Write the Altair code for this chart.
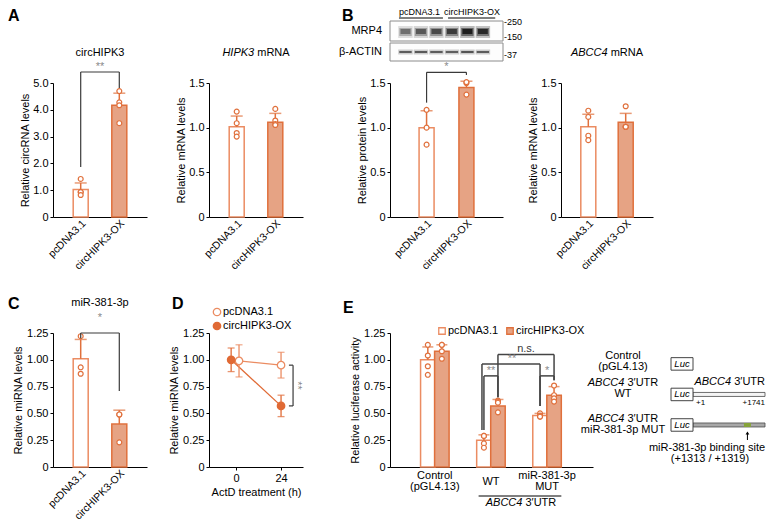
import altair as alt
import pandas as pd

FONT = "Liberation Sans"
OR = "#E0703C"
OR_PC = "#EB8C62"
FILL_OX = "#E6A384"
DOT_OX = "#E06A35"
DARK = "#3a3a3a"
STAR = "#8a8a8a"

GROUPS = ["pcDNA3.1", "circHIPK3-OX"]

# ---------------- data ----------------
# A: circHIPK3
circ_mean = [1.03, 4.17]
circ_cap = [1.27, 4.62]
circ_pc_pts = [1.42, 0.93, 0.93, 0.82]
circ_ox_pts = [4.70, 4.28, 4.17, 3.50]
# A: HIPK3 mRNA
hipk_mean = [1.01, 1.06]
hipk_cap = [1.13, 1.16]
hipk_pc_pts = [1.18, 1.05, 0.94, 0.90]
hipk_ox_pts = [1.21, 1.08, 1.04, 1.03]
# B: MRP4 protein
prot_mean = [1.00, 1.45]
prot_cap = [1.19, 1.52]
prot_pc_pts = [1.20, 1.00, 0.81]
prot_ox_pts = [1.50, 1.51, 1.37]
# B: ABCC4 mRNA
abcc_mean = [1.01, 1.06]
abcc_cap = [1.15, 1.16]
abcc_pc_pts = [1.19, 1.12, 0.91, 0.86]
abcc_ox_pts = [1.24, 1.01, 1.01, 1.01]
# C: miR-381-3p
mir_mean = [1.01, 0.40]
mir_cap = [1.19, 0.53]
mir_pc_pts = [1.22, 0.93, 0.87]
mir_ox_pts = [0.49, 0.49, 0.23]
# D: ActD chase
actd_time = [0, 24]
actd_pc_mean = [0.99, 0.95]
actd_pc_sd = [0.15, 0.12]
actd_ox_mean = [1.00, 0.57]
actd_ox_sd = [0.11, 0.10]
# E: luciferase
luc_groups = ["Control", "WT", "MUT"]
luc_pc_mean = [1.00, 0.25, 0.48]
luc_pc_cap = [1.12, 0.30, 0.50]
luc_ox_mean = [1.08, 0.57, 0.67]
luc_ox_cap = [1.14, 0.63, 0.75]
luc_pc_pts = [[1.14, 1.04, 0.94, 0.86], [0.29, 0.29, 0.22, 0.18], [0.50, 0.48, 0.47, 0.47]]
luc_ox_pts = [[1.14, 1.14, 1.08, 1.01], [0.62, 0.61, 0.60, 0.51], [0.76, 0.67, 0.64, 0.61]]
# western blot band signal per lane
blot_lanes = [1, 2, 3, 4, 5, 6]
mrp4_signal = [0.45, 0.55, 0.62, 0.72, 0.95, 0.85]
actin_signal = [0.70, 0.72, 0.70, 0.68, 0.74, 0.70]
# construct schematic
utr_len = 1741
site_pos = 1316
luc_len = 532

T5 = [0, 1, 2, 3, 4, 5]
T15 = [0, 0.5, 1.0, 1.5]
T125 = [0, 0.25, 0.5, 0.75, 1.0, 1.25]
L1 = "datum.value == 0 ? '0' : format(datum.value, '.1f')"
L2 = "datum.value == 0 ? '0' : format(datum.value, '.2f')"

W = {'A': 667, 'B': 667, 'C': 722, 'H': 722, 'I': 278, 'K': 667, 'P': 667, 'R': 722,
     'T': 611, 'U': 722, 'N': 722, 'm': 833, ' ': 278, '\u2032': 191}


def tw(s, size):
    return sum(W.get(ch, 556) for ch in s) * size / 1000.0


def txt(t, x, y, size=11, align="center", baseline="middle", style="normal",
        weight="normal", color="black", angle=None):
    kw = dict(font=FONT, fontSize=size, align=align, baseline=baseline,
              fontStyle=style, fontWeight=weight, color=color)
    if angle is not None:
        kw["angle"] = angle
    return alt.Chart(pd.DataFrame({"t": [t]})).mark_text(**kw).encode(
        x=alt.value(x), y=alt.value(y), text="t:N")


def mixed(it, rest, cx, y, size=11):
    wi, wr, ws = tw(it, size), tw(rest, size), tw(" ", size)
    start = cx - (wi + ws + wr) / 2
    return [txt(it, start + wi, y, size, align="right", style="italic"),
            txt(rest, start + wi + ws, y, size, align="left")]


one = pd.DataFrame({"a": [0]})


def anchor(x0, x1, y0, y1):
    # invisible frame that fixes the outer extent of a row
    return alt.Chart(one).mark_rect(opacity=0).encode(
        x=alt.value(x0), x2=alt.value(x1), y=alt.value(y0), y2=alt.value(y1))


def bar_panel(mean, cap, pc_pts, ox_pts, ymax, ticks, lab, width, ytitle,
              pin, pout, br, extras, extent):
    xs = alt.Scale(domain=GROUPS, paddingInner=pin, paddingOuter=pout)
    xaxis = alt.Axis(labelAngle=-45, labelAlign="right", labelBaseline="top",
                     ticks=False, labelPadding=1, labelFontSize=10.5)
    ys = alt.Scale(domain=[0, ymax], nice=False, zero=True)
    yaxis = alt.Axis(values=ticks, labelExpr=lab, minExtent=extent,
                     maxExtent=extent, titlePadding=3)

    def X(f):
        return alt.X(f"{f}:N", scale=xs, axis=xaxis, title=None)

    def Y(f):
        return alt.Y(f"{f}:Q", scale=ys, axis=yaxis, title=ytitle)

    df = pd.DataFrame({"group": GROUPS, "mean": mean, "cap": cap})
    pts = pd.DataFrame({"group": [GROUPS[0]] * len(pc_pts) + [GROUPS[1]] * len(ox_pts),
                        "v": list(pc_pts) + list(ox_pts)})
    base = alt.Chart(df).transform_calculate(
        fc=f"datum.group == 'pcDNA3.1' ? 'white' : '{FILL_OX}'",
        sc=f"datum.group == 'pcDNA3.1' ? '{OR_PC}' : '{OR}'")
    bars = base.mark_bar(size=15, strokeWidth=1.5).encode(
        x=X("group"), y=Y("mean"),
        fill=alt.Fill("fc:N", scale=None), stroke=alt.Stroke("sc:N", scale=None))
    err = alt.Chart(df).mark_rule(color=OR, strokeWidth=1.5).encode(
        x=X("group"), y=Y("mean"), y2=alt.Y2("cap"))
    capm = alt.Chart(df).mark_tick(color=OR, thickness=1.5, size=12,
                                   orient="horizontal").encode(x=X("group"), y=Y("cap"))
    dots = alt.Chart(pts).mark_circle(fill="white", stroke=OR, strokeWidth=1.2,
                                      size=24, opacity=1).encode(x=X("group"), y=Y("v"))
    layers = [bars, err, capm, dots]
    if br is not None:
        top, b1, b2, label, dy = br
        bdf = pd.DataFrame({"g1": [GROUPS[0]], "g2": [GROUPS[1]], "top": [top],
                            "b1": [b1], "b2": [b2], "t": [label]})
        rs = dict(color=DARK, strokeWidth=1.2)
        layers += [
            alt.Chart(bdf).mark_rule(**rs).encode(x=X("g1"), x2=alt.X2("g2"), y=Y("top")),
            alt.Chart(bdf).mark_rule(**rs).encode(x=X("g1"), y=Y("top"), y2=alt.Y2("b1")),
            alt.Chart(bdf).mark_rule(**rs).encode(x=X("g2"), y=Y("top"), y2=alt.Y2("b2")),
            alt.Chart(bdf).mark_text(font=FONT, color=STAR, fontSize=11,
                                     baseline="alphabetic", dy=dy).encode(
                x=alt.value(width / 2), y=Y("top"), text="t:N"),
        ]
    return alt.layer(*layers, *extras)


H = 134

A1 = bar_panel(circ_mean, circ_cap, circ_pc_pts, circ_ox_pts, 5, T5, L1, 94,
               "Relative circRNA levels", 0.615, 0.525, (5.41, 1.87, 4.81, "**", -2),
               [txt("circHIPK3", 47, -30),
                txt("A", -45, -75, 16, align="left", baseline="top", weight="bold"),
                anchor(-45, -40, -75, 205)],
               20).properties(width=94, height=H)

A2 = bar_panel(hipk_mean, hipk_cap, hipk_pc_pts, hipk_ox_pts, 1.5, T15, L1, 94,
               "Relative mRNA levels", 0.615, 0.525, None,
               mixed("HIPK3", "mRNA", 47, -30), 20).properties(width=94, height=H)

# ---- B (protein) with blot above
Bmain = bar_panel(prot_mean, prot_cap, prot_pc_pts, prot_ox_pts, 1.5, T15, L1, 113,
                  "Relative protein levels", 0.625, 0.73, (1.62, 1.28, 1.59, "*", -2),
                  [txt("B", -48, -75, 16, align="left", baseline="top", weight="bold")], 20)

bs = alt.Scale(domain=[0, 7.3], nice=False, zero=False)


def LX(f):
    return alt.X(f"{f}:Q", scale=bs, axis=None)


box1 = alt.Chart(one).mark_rect(fill="#fdfdfd", stroke="#8c8c8c", strokeWidth=1).encode(
    x=alt.value(0), x2=alt.value("width"), y=alt.value(-62), y2=alt.value(-42))
box2 = alt.Chart(one).mark_rect(fill="#fdfdfd", stroke="#8c8c8c", strokeWidth=1).encode(
    x=alt.value(0), x2=alt.value("width"), y=alt.value(-40), y2=alt.value(-22))
lane_df = pd.DataFrame({"lane": blot_lanes, "mrp4": mrp4_signal, "actin": actin_signal})
bl = alt.Chart(lane_df).transform_calculate(
    l0="datum.lane - 0.47", l1="datum.lane + 0.47",
    k0="datum.lane - 0.40", k1="datum.lane + 0.40",
    m0="datum.lane - 0.32", m1="datum.lane + 0.32",
    oh="datum.mrp4 * 0.3", oc="datum.mrp4 * 0.55", od="datum.mrp4 * 0.9",
    ah="datum.actin * 0.3", ac="datum.actin * 0.9")
mrp_h = bl.mark_rect(color="#1a1a1a").encode(
    x=LX("l0"), x2=alt.X2("l1"), y=alt.value(-57), y2=alt.value(-45),
    opacity=alt.Opacity("oh:Q", scale=None))
mrp_c = bl.mark_rect(color="#1a1a1a").encode(
    x=LX("k0"), x2=alt.X2("k1"), y=alt.value(-55), y2=alt.value(-47),
    opacity=alt.Opacity("oc:Q", scale=None))
mrp_d = bl.mark_rect(color="#111111").encode(
    x=LX("m0"), x2=alt.X2("m1"), y=alt.value(-54), y2=alt.value(-49),
    opacity=alt.Opacity("od:Q", scale=None))
act_h = bl.mark_rect(color="#1a1a1a").encode(
    x=LX("l0"), x2=alt.X2("l1"), y=alt.value(-33.5), y2=alt.value(-28.5),
    opacity=alt.Opacity("ah:Q", scale=None))
act_c = bl.mark_rect(color="#1a1a1a").encode(
    x=LX("k0"), x2=alt.X2("k1"), y=alt.value(-32), y2=alt.value(-30),
    opacity=alt.Opacity("ac:Q", scale=None))
hd = pd.DataFrame({"lane": [1.9, 5.3], "t": GROUPS, "a": [0.58, 3.75], "b": [3.42, 6.8]})
hdr = alt.Chart(hd).mark_text(font=FONT, fontSize=9, baseline="top").encode(
    x=LX("lane"), y=alt.value(-75), text="t:N")
hdl = alt.Chart(hd).mark_rule(color="black", strokeWidth=1).encode(
    x=LX("a"), x2=alt.X2("b"), y=alt.value(-65))
blot = alt.layer(box1, box2, mrp_h, mrp_c, mrp_d, act_h, act_c, hdr, hdl,
                 txt("-250", 114, -61, 9, align="left"),
                 txt("-150", 114, -46, 9, align="left"),
                 txt("-37", 114, -28, 9, align="left"),
                 txt("MRP4", -8, -52, 11, align="right"),
                 txt("\u03b2-ACTIN", -8, -31, 11, align="right"))
B = alt.layer(Bmain, blot).resolve_scale(x="independent").properties(width=113, height=H)

B2 = bar_panel(abcc_mean, abcc_cap, abcc_pc_pts, abcc_ox_pts, 1.5, T15, L1, 92,
               "Relative mRNA levels", 0.6, 0.53, None,
               mixed("ABCC4", "mRNA", 46, -30), 20).properties(width=92, height=H)

C = bar_panel(mir_mean, mir_cap, mir_pc_pts, mir_ox_pts, 1.25, T125, L2, 94,
              "Relative miRNA levels", 0.615, 0.525, (1.25, 1.20, 0.71, "*", -12),
              [txt("miR-381-3p", 47, -30),
               txt("C", -45, -37, 16, align="left", baseline="top", weight="bold"),
               anchor(-45, -40, -40, 0), anchor(-45, -40, 150, 184)],
              27).properties(width=94, height=H)

# ---- D
dxs = alt.Scale(domain=[-14.4, 35.7], nice=False, zero=False)
dys = alt.Scale(domain=[0, 1.25], nice=False)
dxa = alt.Axis(values=[0, 24], labelFlush=False, titlePadding=3)
dya = alt.Axis(values=T125, labelExpr=L2, minExtent=27, maxExtent=27, titlePadding=3)


def DX(f):
    return alt.X(f"{f}:Q", scale=dxs, axis=dxa, title="ActD treatment (h)")


def DY(f):
    return alt.Y(f"{f}:Q", scale=dys, axis=dya, title="Relative miRNA levels")


ddf = pd.DataFrame({"series": [GROUPS[0]] * 2 + [GROUPS[1]] * 2,
                    "time": actd_time * 2,
                    "mean": actd_pc_mean + actd_ox_mean,
                    "sd": actd_pc_sd + actd_ox_sd})
dbase = alt.Chart(ddf).transform_calculate(
    lo="datum.mean - datum.sd", hi="datum.mean + datum.sd",
    xp="datum.time + (datum.time == 0 ? (datum.series == 'pcDNA3.1' ? 1.6 : -2.6) : 0)")
dlayers = []
dstyle = {GROUPS[0]: (OR_PC, "white"), GROUPS[1]: (DOT_OX, DOT_OX)}
for s in GROUPS:
    sub = dbase.transform_filter(f"datum.series == '{s}'")
    c, f = dstyle[s]
    dlayers.append(sub.mark_line(color=c, strokeWidth=1.3).encode(x=DX("xp"), y=DY("mean")))
for s in GROUPS:
    sub = dbase.transform_filter(f"datum.series == '{s}'")
    c, f = dstyle[s]
    dlayers.append(sub.mark_rule(color=c, strokeWidth=1.3).encode(
        x=DX("xp"), y=DY("lo"), y2=alt.Y2("hi")))
    dlayers.append(sub.mark_tick(color=c, thickness=1.3, size=7, orient="horizontal").encode(
        x=DX("xp"), y=DY("lo")))
    dlayers.append(sub.mark_tick(color=c, thickness=1.3, size=7, orient="horizontal").encode(
        x=DX("xp"), y=DY("hi")))
for s in GROUPS:
    sub = dbase.transform_filter(f"datum.series == '{s}'")
    c, f = dstyle[s]
    dlayers.append(sub.mark_point(shape="circle", filled=True, fill=f, stroke=c,
                                  strokeWidth=1.3, size=55, opacity=1).encode(
        x=DX("xp"), y=DY("mean")))
dbr = pd.DataFrame({"x": [30.4], "x0": [28.2], "y1": [0.95], "y2": [0.57],
                    "lx": [30.9], "ly": [0.76], "t": ["**"]})
dlayers += [
    alt.Chart(dbr).mark_rule(color=DARK, strokeWidth=1.2).encode(
        x=DX("x"), y=DY("y1"), y2=alt.Y2("y2")),
    alt.Chart(dbr).mark_rule(color=DARK, strokeWidth=1.2).encode(
        x=DX("x0"), x2=alt.X2("x"), y=DY("y1")),
    alt.Chart(dbr).mark_rule(color=DARK, strokeWidth=1.2).encode(
        x=DX("x0"), x2=alt.X2("x"), y=DY("y2")),
    alt.Chart(dbr).mark_text(font=FONT, fontSize=11, color=STAR, angle=90,
                             baseline="alphabetic").encode(
        x=DX("lx"), y=DY("ly"), text="t:N"),
]
leg = pd.DataFrame({"a": [0]})
dlayers += [
    alt.Chart(leg).mark_point(shape="circle", filled=True, fill="white", stroke=OR_PC,
                              strokeWidth=1.3, size=55, opacity=1).encode(
        x=alt.value(8), y=alt.value(-21)),
    alt.Chart(leg).mark_point(shape="circle", filled=True, fill=DOT_OX, stroke=DOT_OX,
                              strokeWidth=1.3, size=55, opacity=1).encode(
        x=alt.value(8), y=alt.value(-7)),
    txt("pcDNA3.1", 14, -21, align="left"),
    txt("circHIPK3-OX", 14, -7, align="left"),
    txt("D", -37, -37, 16, align="left", baseline="top", weight="bold"),
]
D = alt.layer(*dlayers).properties(width=94, height=H)

# ---- E
ex = alt.Scale(domain=[-0.71, 2.73], nice=False, zero=False)
ey = alt.Scale(domain=[0, 1.25], nice=False)
exa = alt.Axis(labels=False, ticks=False)
eya = alt.Axis(values=T125, labelExpr=L2, minExtent=27, maxExtent=27, titlePadding=3)


def EX(f):
    return alt.X(f"{f}:Q", scale=ex, axis=exa, title=None)


def EY(f):
    return alt.Y(f"{f}:Q", scale=ey, axis=eya, title="Relative luciferase activity")


def epos(g, s):
    return g + (s - 0.5) * 0.25


POS = "datum.gi + (datum.si - 0.5) * 0.25"
edf = pd.DataFrame([dict(gi=g, si=s, mean=m, cap=c)
                    for g in range(3)
                    for s, (m, c) in enumerate([(luc_pc_mean[g], luc_pc_cap[g]),
                                                (luc_ox_mean[g], luc_ox_cap[g])])])
epts = pd.DataFrame([dict(gi=g, si=s, v=v)
                     for g in range(3)
                     for s, arr in enumerate([luc_pc_pts[g], luc_ox_pts[g]])
                     for v in arr])
eb = alt.Chart(edf).transform_calculate(
    pos=POS, fc=f"datum.si == 0 ? 'white' : '{FILL_OX}'",
    sc=f"datum.si == 0 ? '{OR_PC}' : '{OR}'")
e_bars = eb.mark_bar(size=14.5, strokeWidth=1.5).encode(
    x=EX("pos"), y=EY("mean"), fill=alt.Fill("fc:N", scale=None),
    stroke=alt.Stroke("sc:N", scale=None))
e_err = eb.mark_rule(color=OR, strokeWidth=1.5).encode(x=EX("pos"), y=EY("mean"), y2=alt.Y2("cap"))
e_cap = eb.mark_tick(color=OR, thickness=1.5, size=11, orient="horizontal").encode(
    x=EX("pos"), y=EY("cap"))
e_dots = alt.Chart(epts).transform_calculate(pos=POS).mark_circle(
    fill="white", stroke=OR, strokeWidth=1.2, size=24, opacity=1).encode(x=EX("pos"), y=EY("v"))

e_br_spec = [  # (g1, s1, g2, s2, top, bottom1, bottom2, label, leg shift)
    (1, 0, 1, 1, 0.85, 0.345, 0.65, "**", 0.0),
    (1, 0, 2, 0, 0.96, 0.345, 0.57, "**", -0.035),
    (1, 1, 2, 1, 1.05, 0.65, 0.81, "n.s.", 0.0),
    (2, 0, 2, 1, 0.85, 0.57, 0.81, "*", 0.0),
]
ebr = pd.DataFrame([dict(x1=epos(g1, s1) + sh, x2=epos(g2, s2), top=t, b1=b1, b2=b2, t=lab,
                         lx=(epos(g1, s1) + epos(g2, s2)) / 2,
                         tc=DARK if lab == "n.s." else STAR)
                    for g1, s1, g2, s2, t, b1, b2, lab, sh in e_br_spec])
ers = dict(color="#444444", strokeWidth=1.5)
e_h = alt.Chart(ebr).mark_rule(**ers).encode(x=EX("x1"), x2=alt.X2("x2"), y=EY("top"))
e_l1 = alt.Chart(ebr).mark_rule(**ers).encode(x=EX("x1"), y=EY("top"), y2=alt.Y2("b1"))
e_l2 = alt.Chart(ebr).mark_rule(**ers).encode(x=EX("x2"), y=EY("top"), y2=alt.Y2("b2"))
e_lab = alt.Chart(ebr).mark_text(font=FONT, fontSize=11, baseline="alphabetic", dy=-2).encode(
    x=EX("lx"), y=EY("top"), text="t:N", color=alt.Color("tc:N", scale=None))

xl1 = pd.DataFrame({"gi": [0, 2], "t": ["Control", "miR-381-3p"]})
xl2 = pd.DataFrame({"gi": [0, 2], "t": ["(pGL4.13)", "MUT"]})
xl3 = pd.DataFrame({"gi": [1], "t": ["WT"]})
e_x1 = alt.Chart(xl1).mark_text(font=FONT, fontSize=11).encode(x=EX("gi"), y=alt.value(143), text="t:N")
e_x2 = alt.Chart(xl2).mark_text(font=FONT, fontSize=11).encode(x=EX("gi"), y=alt.value(154), text="t:N")
e_x3 = alt.Chart(xl3).mark_text(font=FONT, fontSize=11).encode(x=EX("gi"), y=alt.value(149), text="t:N")
ul = pd.DataFrame({"a": [1 - 0.22], "b": [2 + 0.255]})
e_ul = alt.Chart(ul).mark_rule(color="black", strokeWidth=1).encode(
    x=EX("a"), x2=alt.X2("b"), y=alt.value(163))
e_leg = [
    alt.Chart(leg).mark_square(size=42, fill="white", stroke=OR_PC, strokeWidth=1.3,
                               opacity=1).encode(x=alt.value(52), y=alt.value(-2)),
    txt("pcDNA3.1", 58, -2, align="left"),
    alt.Chart(leg).mark_square(size=42, fill=FILL_OX, stroke=OR, strokeWidth=1.3,
                               opacity=1).encode(x=alt.value(120), y=alt.value(-2)),
    txt("circHIPK3-OX", 126, -2, align="left"),
]
E = alt.layer(e_bars, e_err, e_cap, e_dots, e_h, e_l1, e_l2, e_lab, e_x1, e_x2, e_x3, e_ul,
              *mixed("ABCC4", "3\u2032UTR", 131, 170), *e_leg,
              txt("E", -47, -33, 16, align="left", baseline="top", weight="bold")
              ).properties(width=203, height=H)

# ---- construct schematic
gxs = alt.Scale(domain=[-2249, 1765], nice=False, zero=False)
gys = alt.Scale(domain=[-0.848, 3.212], nice=False, zero=False, reverse=True)


def GX(f):
    return alt.X(f"{f}:Q", scale=gxs, axis=None)


def GY(f):
    return alt.Y(f"{f}:Q", scale=gys, axis=None)


cdf = pd.DataFrame({"row": [0, 1, 2], "l0": [-luc_len] * 3, "l1": [0] * 3,
                    "lc": [-luc_len / 2] * 3, "t": ["Luc"] * 3})
g_luc = alt.Chart(cdf).mark_bar(orient="horizontal", size=12.5, fill="white", stroke="#444444",
                                strokeWidth=1).encode(x=GX("l0"), x2=alt.X2("l1"), y=GY("row"))
g_lucT = alt.Chart(cdf).mark_text(font=FONT, fontSize=9.5, fontStyle="italic").encode(
    x=GX("lc"), y=GY("row"), text="t:N")
udf = pd.DataFrame({"row": [1, 2], "a": [0, 0], "b": [utr_len, utr_len],
                    "fc": ["#f4f4f4", "#a8a8a8"]})
g_utr = alt.Chart(udf).mark_bar(orient="horizontal", size=4, stroke="#4a4a4a",
                                strokeWidth=0.8).encode(
    x=GX("a"), x2=alt.X2("b"), y=GY("row"), fill=alt.Fill("fc:N", scale=None))
sdf = pd.DataFrame({"row": [2], "s": [site_pos]})
g_site = alt.Chart(sdf).mark_tick(orient="vertical", thickness=7, size=4, color="#86A33A",
                                  opacity=1).encode(x=GX("s"), y=GY("row"))
g_arr = alt.Chart(sdf).mark_rule(color="black", strokeWidth=1).encode(
    x=GX("s"), y=alt.value(100), y2=alt.value(107))
g_head = alt.Chart(sdf).mark_point(shape="triangle-up", size=14, filled=True, color="black",
                                   opacity=1).encode(x=GX("s"), y=alt.value(100))
pdf = pd.DataFrame({"row": [1, 1], "x": [0, utr_len], "t": ["+1", "+" + str(utr_len)]})
g_p1 = alt.Chart(pdf.iloc[[0]]).mark_text(font=FONT, fontSize=8, align="left", dx=3, dy=9).encode(
    x=GX("x"), y=GY("row"), text="t:N")
g_p2 = alt.Chart(pdf.iloc[[1]]).mark_text(font=FONT, fontSize=8, align="right", dy=9).encode(
    x=GX("x"), y=GY("row"), text="t:N")
odf = pd.DataFrame({"row": [1], "x": [utr_len], "a": ["ABCC4"], "b": ["3\u2032UTR"]})
g_o1 = alt.Chart(odf).mark_text(font=FONT, fontSize=11, align="right", dy=-12,
                                dx=-(tw("3\u2032UTR", 11) + tw(" ", 11)),
                                fontStyle="italic").encode(x=GX("x"), y=GY("row"), text="a:N")
g_o2 = alt.Chart(odf).mark_text(font=FONT, fontSize=11, align="right", dy=-12).encode(
    x=GX("x"), y=GY("row"), text="b:N")
G = alt.layer(g_utr, g_site, g_luc, g_lucT, g_arr, g_head, g_p1, g_p2, g_o1, g_o2,
              txt("Control", 23, 22.5), txt("(pGL4.13)", 23, 33.5),
              *mixed("ABCC4", "3\u2032UTR", 23, 50), txt("WT", 23, 60.5),
              *mixed("ABCC4", "3\u2032UTR", 23, 86), txt("miR-381-3p MUT", 23, 97),
              txt("miR-381-3p binding site", 107, 115), txt("(+1313 / +1319)", 110, 126)
              ).properties(width=166, height=H)


def spacer(w):
    return alt.Chart(one).mark_point(opacity=0).encode(
        x=alt.value(0), y=alt.value(0)).properties(width=w, height=H)


row1 = alt.hconcat(A1, spacer(62), A2, spacer(87), B, spacer(58), B2,
                   spacing=0, bounds="flush")
row2 = alt.hconcat(C, spacer(62), D, spacer(87), E, spacer(7), G,
                   spacing=0, bounds="flush")
chart = alt.vconcat(row1, row2, spacing=5, bounds="full", padding=0).configure(
    font=FONT).configure_view(stroke=None).configure_axis(
    labelFont=FONT, titleFont=FONT, labelFontSize=11, titleFontSize=11,
    labelColor="black", titleColor="black", titleFontWeight="normal",
    domainColor="black", tickColor="black", tickSize=3, grid=False, labelPadding=2)

chart.save("out.html", embed_options={"renderer": "svg", "actions": False})
